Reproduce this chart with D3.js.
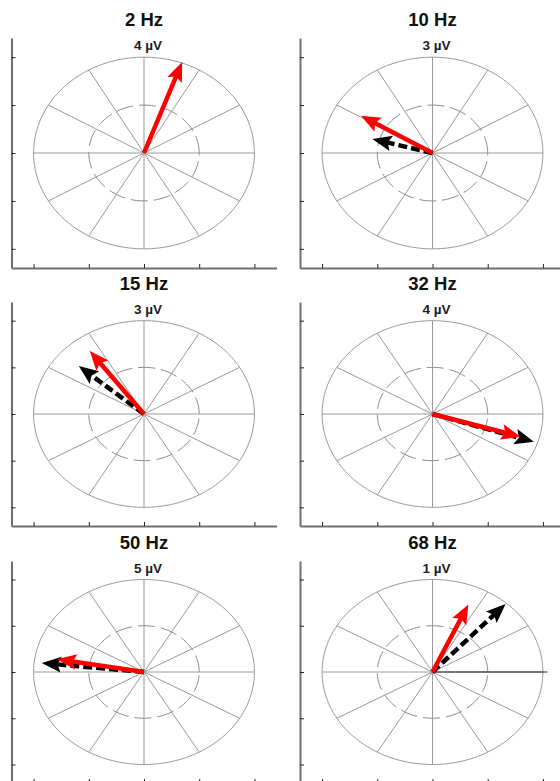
<!DOCTYPE html>
<html>
<head>
<meta charset="utf-8">
<script src="https://cdn.jsdelivr.net/npm/d3@7"></script>
<style>
html,body{margin:0;padding:0;background:#fff;}
svg{display:block;}
</style>
</head>
<body>
<svg id="chart" width="560" height="781"></svg>
<script>
// ---- data ----
const freqs = ["2 Hz", "10 Hz", "15 Hz", "32 Hz", "50 Hz", "68 Hz"];
const scaleLabels = ["4 \u00B5V", "3 \u00B5V", "3 \u00B5V", "4 \u00B5V", "5 \u00B5V", "1 \u00B5V"];
// red (solid) vectors: magnitude relative to scale, angle in degrees
const redMag   = [0.99, 0.737, 0.817, 0.816, 0.782, 0.778];
const redAngle = [70, 149, 126, -17, 170, 66];
// black (dashed) vectors
const blackMag   = [null, 0.546, 0.763, 0.949, 0.913, 0.969];
const blackAngle = [null, 165, 139, -18, 174, 48];
// solid black reference line (only visible at 68 Hz)
const refMag   = [0, 0, 0, 0, 0, 1.04];
const refAngle = [0, 0, 0, 0, 0, 0];
const axisTicks = [-1, -0.5, 0, 0.5, 1];
const spokeAngles = [0, 30, 60, 90, 120, 150, 180, 210, 240, 270, 300, 330];
const rings = [0.5, 1];

// ---- layout ----
const svg = d3.select("#chart");
const colLeft = [11.5, 300];
const rowTop = [38, 302, 561];
const rowH = [230, 224, 222];
const panelW = 265;
const dom = [-1.2, 1.2];

function arrow(g, x, y, mag, angDeg, color, dashed) {
  const a = angDeg * Math.PI / 180;
  const x0 = x(0), y0 = y(0);
  const x1 = x(mag * Math.cos(a)), y1 = y(mag * Math.sin(a));
  const dx = x1 - x0, dy = y1 - y0;
  const L = Math.hypot(dx, dy);
  const ux = dx / L, uy = dy / L;
  const hl = 16, hw = 6.5, notch = 3;
  const bx = x1 - ux * hl, by = y1 - uy * hl;
  const px = -uy, py = ux;
  g.append("line")
    .attr("x1", x0).attr("y1", y0)
    .attr("x2", x1 - ux * (hl - notch - 1)).attr("y2", y1 - uy * (hl - notch - 1))
    .attr("stroke", color).attr("stroke-width", 4.5)
    .attr("stroke-dasharray", dashed ? "9,4" : null);
  const pts = [
    [x1, y1],
    [bx + px * hw, by + py * hw],
    [bx + ux * notch, by + uy * notch],
    [bx - px * hw, by - py * hw]
  ];
  g.append("path")
    .attr("d", "M" + pts.map(p => p.join(",")).join("L") + "Z")
    .attr("fill", color)
    .attr("stroke", color)
    .attr("stroke-width", 1.5)
    .attr("stroke-linejoin", "miter");
}

freqs.forEach((f, i) => {
  const col = i % 2, row = Math.floor(i / 2);
  const left = colLeft[col], top = rowTop[row], h = rowH[row];
  const x = d3.scaleLinear().domain(dom).range([left, left + panelW]);
  const y = d3.scaleLinear().domain(dom).range([top + h, top]);
  const g = svg.append("g");

  // rings
  const ringLine = d3.line().x(d => d[0]).y(d => d[1]);
  rings.forEach(r => {
    const pts = d3.range(0, 361, 2).map(t => [x(r * Math.cos(t * Math.PI / 180)), y(r * Math.sin(t * Math.PI / 180))]);
    g.append("path")
      .attr("d", ringLine(pts))
      .attr("fill", "none")
      .attr("stroke", r === 1 ? "#9a9a9a" : "#888")
      .attr("stroke-width", 1)
      .attr("stroke-dasharray", r === 1 ? null : "17,6");
  });
  // spokes
  spokeAngles.forEach(t => {
    const a = t * Math.PI / 180;
    g.append("line")
      .attr("x1", x(0)).attr("y1", y(0))
      .attr("x2", x(Math.cos(a))).attr("y2", y(Math.sin(a)))
      .attr("stroke", "#9a9a9a").attr("stroke-width", 1);
  });

  // axes
  const ax = g.append("g").attr("transform", `translate(0,${top + h})`)
    .call(d3.axisBottom(x).tickValues(axisTicks).tickSizeInner(-4).tickSizeOuter(0).tickFormat(""));
  const ay = g.append("g").attr("transform", `translate(${left},0)`)
    .call(d3.axisLeft(y).tickValues(axisTicks).tickSizeInner(-4).tickSizeOuter(0).tickFormat(""));
  [ax, ay].forEach(a => {
    a.select(".domain").attr("stroke", "#6e6e6e").attr("stroke-width", 2);
    a.selectAll(".tick line").attr("stroke", "#222").attr("stroke-width", 1);
  });

  // reference line
  if (refMag[i] > 0) {
    const a = refAngle[i] * Math.PI / 180;
    g.append("line")
      .attr("x1", x(0)).attr("y1", y(0))
      .attr("x2", x(refMag[i] * Math.cos(a))).attr("y2", y(refMag[i] * Math.sin(a)))
      .attr("stroke", "#222").attr("stroke-width", 1.2);
  }

  // vectors
  if (blackMag[i] != null) arrow(g, x, y, blackMag[i], blackAngle[i], "#000", true);
  arrow(g, x, y, redMag[i], redAngle[i], "#ff0000", false);

  // texts
  g.append("text")
    .attr("x", x(0)).attr("y", top - 12)
    .attr("text-anchor", "middle")
    .attr("font-family", "Liberation Sans, Arial, sans-serif")
    .attr("font-weight", "bold").attr("font-size", 18.5)
    .attr("fill", "#111")
    .text(f);
  g.append("text")
    .attr("x", x(0) - 10).attr("y", top + 11.5)
    .attr("text-anchor", "start")
    .attr("font-family", "Liberation Sans, Arial, sans-serif")
    .attr("font-weight", "bold").attr("font-size", 13.5)
    .attr("fill", "#1c1c28")
    .text(scaleLabels[i]);
});
</script>
</body>
</html>
